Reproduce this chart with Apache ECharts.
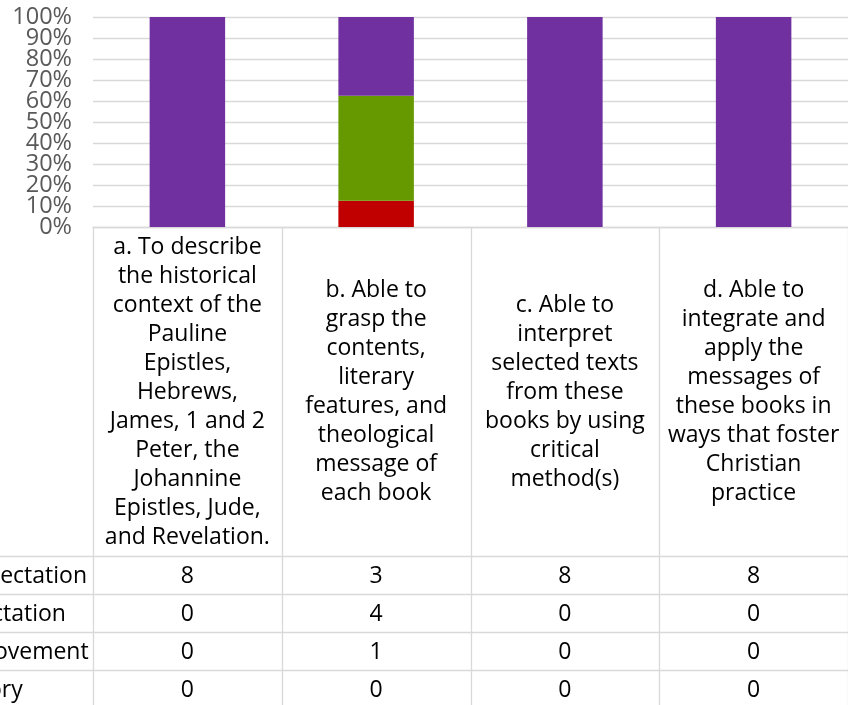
<!DOCTYPE html>
<html><head><meta charset="utf-8">
<script src="https://cdn.jsdelivr.net/npm/echarts@6/dist/echarts.min.js"></script>
<style>html,body{margin:0;padding:0;background:#fff;overflow:hidden}#c{width:848px;height:705px}</style>
</head><body><div id="c"></div>
<script>
// ---- data ----
const categories = [
  "a. To describe\nthe historical\ncontext of the\nPauline\nEpistles,\nHebrews,\nJames, 1 and 2\nPeter, the\nJohannine\nEpistles, Jude,\nand Revelation.",
  "b. Able to\ngrasp the\ncontents,\nliterary\nfeatures, and\ntheological\nmessage of\neach book",
  "c. Able to\ninterpret\nselected texts\nfrom these\nbooks by using\ncritical\nmethod(s)",
  "d. Able to\nintegrate and\napply the\nmessages of\nthese books in\nways that foster\nChristian\npractice"
];
const rowNames = ["Exceeds Expectation", "Meets Expectation", "Needs Improvement", "Unsatisfactory"];
const exceeds = [8, 3, 8, 8];
const meets = [0, 4, 0, 0];
const needsImprovement = [0, 1, 0, 0];
const unsatisfactory = [0, 0, 0, 0];
const rowColors = ["#7030A0", "#669900", "#C00000", "#FFC000"];
const yTickLabels = ["0%","10%","20%","30%","40%","50%","60%","70%","80%","90%","100%"];

// ---- build ----
const rows = [exceeds, meets, needsImprovement, unsatisfactory];
const totals = categories.map((_, i) => rows.reduce((s, r) => s + r[i], 0));
const pct = r => r.map((v, i) => totals[i] ? v / totals[i] * 100 : 0);

const FONT = "Open Sans";
const FS = 23;
const series = [];
for (let k = rows.length - 1; k >= 0; k--) {
  series.push({
    name: rowNames[k], type: 'bar', stack: 'all', data: pct(rows[k]),
    barWidth: '40%', itemStyle: { color: rowColors[k] }, silent: true
  });
}

const yLabelStyle = { margin: 21, fontSize: 23.5, fontFamily: FONT, color: '#595959', hideOverlap: false };
const chart = echarts.init(document.getElementById('c'), null, { renderer: 'canvas' });
chart.setOption({
  animation: false,
  grid: { left: 93, top: 17, width: 760, height: 210, containLabel: false },
  xAxis: {
    type: 'category', data: categories,
    axisLine: { show: true, lineStyle: { color: '#D9D9D9', width: 1.3 } },
    axisTick: { show: false },
    axisLabel: { interval: 0, margin: 165, verticalAlign: 'middle', align: 'center',
      lineHeight: 29, fontSize: FS, fontFamily: FONT, color: '#000' }
  },
  yAxis: [{
    type: 'value', min: 0, max: 100, interval: 10, position: 'left',
    axisLine: { show: false }, axisTick: { show: false },
    splitLine: { lineStyle: { color: '#D9D9D9', width: 1.3 } },
    axisLabel: Object.assign({ showMinLabel: true, showMaxLabel: true,
      formatter: v => { const i = Math.round(v / 10); return i % 2 === 0 ? yTickLabels[i] : ''; } }, yLabelStyle)
  }, {
    type: 'value', min: 0, max: 100, interval: 10, position: 'left', offset: 0,
    axisLine: { show: false }, axisTick: { show: false }, splitLine: { show: false },
    axisLabel: Object.assign({ showMinLabel: false, showMaxLabel: false,
      formatter: v => { const i = Math.round(v / 10); return i % 2 === 1 ? yTickLabels[i] : ''; } }, yLabelStyle)
  }],
  series: series
});

// ---- data table ----
const n = categories.length;
const cx = categories.map((_, i) => chart.convertToPixel({ xAxisIndex: 0 }, i));
const band = cx[1] - cx[0];
const axisY = Math.round(chart.convertToPixel({ yAxisIndex: 0 }, 0));
const headerBottom = 556, rowH = 38;
const g = [];
const lineStyle = { stroke: '#D9D9D9', lineWidth: 1.3 };
for (let i = 0; i <= n; i++) {
  const x = Math.round(cx[0] - band / 2 + i * band) + 0.5;
  g.push({ type: 'line', shape: { x1: x, y1: axisY, x2: x, y2: 720 }, style: lineStyle, silent: true });
}
for (let r = 0; r <= rows.length; r++) {
  const y = headerBottom + r * rowH + 0.5;
  g.push({ type: 'line', shape: { x1: 0, y1: y, x2: 860, y2: y }, style: lineStyle, silent: true });
}
const ctx = document.createElement('canvas').getContext('2d');
ctx.font = FS + 'px ' + FONT;
const labelLeft = 87 - ctx.measureText(rowNames[0]).width;
rows.forEach((r, k) => {
  const yc = headerBottom + k * rowH + rowH / 2 + 1;
  g.push({ type: 'text', x: labelLeft, y: yc, silent: true,
    style: { text: rowNames[k], fontSize: FS, fontFamily: FONT, fill: '#000', align: 'left', verticalAlign: 'middle' } });
  r.forEach((v, i) => {
    g.push({ type: 'text', x: cx[i], y: yc, silent: true,
      style: { text: String(v), fontSize: FS, fontFamily: FONT, fill: '#000', align: 'center', verticalAlign: 'middle' } });
  });
});
chart.setOption({ graphic: g });
</script>
</body></html>
